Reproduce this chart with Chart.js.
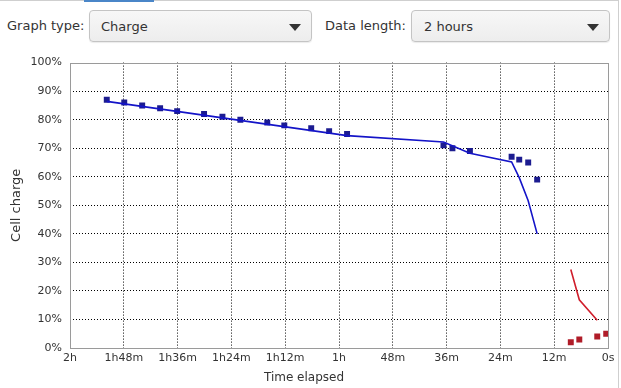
<!DOCTYPE html>
<html>
<head>
<meta charset="utf-8">
<script src="https://cdn.jsdelivr.net/npm/chart.js@4"></script>
<style>
  html, body { margin: 0; padding: 0; }
  body {
    width: 621px; height: 388px; overflow: hidden; position: relative;
    background: #ffffff; font-family: "DejaVu Sans", sans-serif; color: #333;
  }
  .topline { position: absolute; left: 0; top: 0; width: 619px; height: 1px; background: #cfcfcf; }
  .tab { position: absolute; left: 84px; top: 0; width: 70px; height: 2px; background: #4a86c8; }
  .rightline { position: absolute; left: 618px; top: 0; width: 1px; height: 388px; background: #cfcfcf; }
  .label { position: absolute; top: 17px; font-size: 13px; line-height: 18px; }
  .combo {
    position: absolute; top: 10px; height: 32px; box-sizing: border-box;
    border: 1px solid #c4c4c4; border-radius: 4px;
    background: linear-gradient(#f7f7f7, #ededed);
    box-shadow: 0 1px 1px rgba(0,0,0,0.08);
    font-size: 13px; line-height: 31px; padding-left: 11px;
  }
  .combo::after {
    content: ""; position: absolute; right: 10px; top: 13px;
    border-left: 6px solid transparent; border-right: 6px solid transparent;
    border-top: 7px solid #333;
  }
  #wrap { position: absolute; left: 0; top: 48px; width: 621px; height: 340px; }
</style>
</head>
<body>
<div class="topline"></div>
<div class="tab"></div>
<div class="rightline"></div>
<div class="label" style="left:7px">Graph type:</div>
<div class="combo" style="left:89px; width:223px">Charge</div>
<div class="label" style="left:325px">Data length:</div>
<div class="combo" style="left:411px; width:199px; padding-left:12px">2 hours</div>
<div id="wrap"><canvas id="chart"></canvas></div>
<script>
// minutes before now (0 = now), percent charge
const measuredMinutes = [111.8, 107.9, 103.9, 99.9, 96.1, 90.1, 86.0, 82.0, 76.0, 72.2, 66.2, 62.2, 58.2, 36.7, 34.7, 30.8, 21.5, 19.8, 17.8, 15.8];
const measuredCharge  = [87, 86, 85, 84, 83, 82, 81, 80, 79, 78, 77, 76, 75, 71, 70, 69, 67, 66, 65, 59];

const trendMinutes = [111.8, 58.2, 36.7, 30.8, 21.5, 19.8, 17.8, 15.8];
const trendCharge  = [86.4, 74.4, 72.2, 68.2, 65.2, 59.7, 51.6, 40];

const redMinutes = [8.3, 6.4, 2.4, 0.4];
const redValues  = [2, 3, 4, 5];

const redTrendMinutes = [8.3, 6.4, 2.4];
const redTrendValues  = [27.5, 16.9, 9.7];

const xTickLabels = ['2h', '1h48m', '1h36m', '1h24m', '1h12m', '1h', '48m', '36m', '24m', '12m', '0s'];
const yTickLabels = ['0%', '10%', '20%', '30%', '40%', '50%', '60%', '70%', '80%', '90%', '100%'];

function toPoints(xs, ys) {
  return xs.map((x, i) => ({ x: x, y: ys[i] }));
}

const tickFont = { family: 'DejaVu Sans', size: 11 };
const textColor = '#333';

// dotted grid, but leave the edges to the frame
function gridColor(ctx) {
  const ticks = ctx.scale.ticks;
  if (ctx.index === 0 || ctx.index === ticks.length - 1) return 'rgba(0,0,0,0)';
  return '#000';
}

const frame = {
  id: 'frame',
  afterDraw(chart) {
    const a = chart.chartArea;
    const c = chart.ctx;
    c.save();
    c.strokeStyle = '#9a9a9a';
    c.lineWidth = 1;
    c.strokeRect(Math.round(a.left) + 0.5, Math.round(a.top) + 0.5,
      Math.round(a.right - a.left), Math.round(a.bottom - a.top));
    c.restore();
  }
};

new Chart(document.getElementById('chart'), {
  type: 'scatter',
  data: {
    datasets: [
      {
        data: toPoints(trendMinutes, trendCharge),
        showLine: true, borderColor: '#1414c8', borderWidth: 1.6,
        pointRadius: 0, tension: 0
      },
      {
        data: toPoints(measuredMinutes, measuredCharge),
        showLine: false, pointStyle: 'rect', pointRadius: 4.2,
        backgroundColor: '#1c1c90', borderColor: '#1c1c90', borderWidth: 0
      },
      {
        data: toPoints(redTrendMinutes, redTrendValues),
        showLine: true, borderColor: '#d01e2c', borderWidth: 1.6,
        pointRadius: 0, tension: 0
      },
      {
        data: toPoints(redMinutes, redValues),
        showLine: false, pointStyle: 'rect', pointRadius: 4.2,
        backgroundColor: '#b01c28', borderColor: '#b01c28', borderWidth: 0
      }
    ]
  },
  options: {
    responsive: true,
    maintainAspectRatio: false,
    animation: false,
    layout: { padding: { left: 0, right: 13, top: 11, bottom: 0 } },
    plugins: {
      legend: { display: false },
      tooltip: { enabled: false },
      title: {
        display: true, position: 'bottom', text: 'Time elapsed',
        color: textColor, font: { family: 'DejaVu Sans', size: 12, weight: 'normal' },
        padding: { top: 0, bottom: 3 }
      }
    },
    scales: {
      x: {
        type: 'linear', min: 0, max: 120, reverse: true,
        afterFit(scale) { scale.height = 22.6; },
        ticks: {
          stepSize: 12, padding: 4, color: textColor, font: tickFont, maxRotation: 0,
          callback: (v) => xTickLabels[Math.round((120 - v) / 12)]
        },
        grid: { color: gridColor, lineWidth: 1, drawTicks: false },
        border: { display: false, dash: [1, 2] }
      },
      y: {
        min: 0, max: 100,
        afterFit(scale) { scale.width = 70; },
        ticks: {
          stepSize: 10, padding: 8, color: textColor, font: tickFont,
          callback: (v) => yTickLabels[Math.round(v / 10)]
        },
        grid: { color: gridColor, lineWidth: 1, drawTicks: false },
        border: { display: false, dash: [1, 2] },
        title: {
          display: true, text: 'Cell charge', color: textColor,
          font: { family: 'DejaVu Sans', size: 13 },
          padding: { top: 9, bottom: 0 }
        }
      }
    }
  },
  plugins: [frame]
});
</script>
</body>
</html>
